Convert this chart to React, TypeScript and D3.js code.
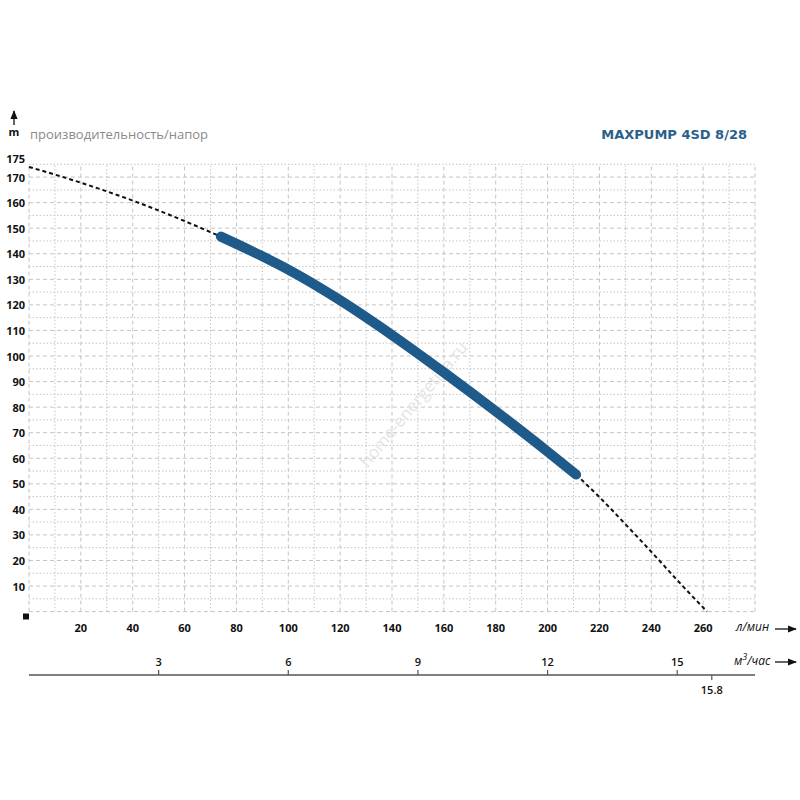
import React from 'react'
import * as d3 from 'd3'

// pump curve: flow (l/min) vs head (m)
const flowLpm = [0, 20, 40, 60, 74, 90, 100, 120, 140, 160, 180, 200, 211, 220, 230, 240, 250, 261.5]
const headM = [174, 167.8, 160.8, 152.8, 146.7, 139, 133.8, 121.8, 108.2, 93.6, 78.4, 62.6, 53.6, 44.8, 34.2, 23.4, 12.3, 0]
const workRange = [74, 211]

const flowTicks = [20, 40, 60, 80, 100, 120, 140, 160, 180, 200, 220, 240, 260]
const headTicks = [10, 20, 30, 40, 50, 60, 70, 80, 90, 100, 110, 120, 130, 140, 150, 160, 170, 175]
const m3Ticks = [3, 6, 9, 12, 15]
const m3Max = 15.8

const title = 'MAXPUMP 4SD 8/28'
const subtitle = 'производительность/напор'

const W = 800
const H = 800
const left = 29
const right = 755
const top = 164.3
const bottom = 611.6
const axis2Y = 675

const font = '"Open Sans", "DejaVu Sans", sans-serif'

export default function App() {
  const x = d3.scaleLinear().domain([0, 280]).range([left, right])
  const y = d3.scaleLinear().domain([0, 175]).range([bottom, top])
  const xM3 = d3.scaleLinear().domain([0, 280 * 0.06]).range([left, right])

  const pts: [number, number][] = flowLpm.map((f, i) => [f, headM[i]])
  const line = d3
    .line<[number, number]>()
    .x(d => x(d[0]))
    .y(d => y(d[1]))
    .curve(d3.curveMonotoneX)

  const before = pts.filter(d => d[0] <= workRange[0])
  const work = pts.filter(d => d[0] >= workRange[0] && d[0] <= workRange[1])
  const after = pts.filter(d => d[0] >= workRange[1])

  const vGrid = d3.range(0, 281, 10)
  const hGrid = d3.range(0, 176, 5)

  return (
    <svg
      width={W}
      height={H}
      style={{ position: 'absolute', left: 0, top: 0, background: '#fff' }}
      fontFamily={font}
    >
      <defs>
        <marker id="arr" viewBox="0 0 10 10" refX="9" refY="5" markerWidth="7" markerHeight="7" orient="auto">
          <path d="M0,1 L10,5 L0,9 z" fill="#111" />
        </marker>
      </defs>

      {/* grid */}
      <g>
        {vGrid.map(v => (
          <line
            key={'v' + v}
            x1={x(v)}
            x2={x(v)}
            y1={y(0)}
            y2={y(175)}
            stroke="#c4c4c4"
            strokeWidth={1}
            strokeDasharray={v % 20 === 0 ? '4,3' : '1.5,2'}
          />
        ))}
        {hGrid.map(h => (
          <line
            key={'h' + h}
            x1={x(0)}
            x2={x(280)}
            y1={y(h)}
            y2={y(h)}
            stroke="#c4c4c4"
            strokeWidth={1}
            strokeDasharray={h % 10 === 0 ? '4,3' : '1.5,2'}
          />
        ))}
      </g>

      {/* watermark */}
      <text
        x={418}
        y={408}
        transform="rotate(-50 418 408)"
        textAnchor="middle"
        fontSize={17}
        fill="#e4e4e4"
      >
        home-energetika.ru
      </text>

      {/* curves */}
      <path d={line(before) || ''} fill="none" stroke="#111" strokeWidth={2} strokeDasharray="4,3" />
      <path d={line(after) || ''} fill="none" stroke="#111" strokeWidth={2} strokeDasharray="4,3" />
      <path d={line(work) || ''} fill="none" stroke="#1e5a8a" strokeWidth={10} strokeLinecap="round" />

      {/* head axis */}
      {headTicks.map(t => (
        <text
          key={'yt' + t}
          x={25}
          y={y(t) - (t === 175 ? 6 : 0)}
          textAnchor="end"
          dominantBaseline="central"
          fontSize={11}
          fontWeight="bold"
          fill="#111"
        >
          {t}
        </text>
      ))}
      <rect x={23} y={613.5} width={6} height={6} fill="#111" />
      <line x1={14} x2={14} y1={125} y2={111} stroke="#111" strokeWidth={1.3} markerEnd="url(#arr)" />
      <text x={14} y={136} textAnchor="middle" fontSize={11} fontWeight="bold" fill="#111">
        m
      </text>
      <text x={30} y={139} fontSize={13} fill="#8a8a8a">
        {subtitle}
      </text>
      <text x={747} y={139} textAnchor="end" fontSize={13} fontWeight="bold" fill="#2b5f8c" fontFamily='"DejaVu Sans", sans-serif'>
        {title}
      </text>

      {/* flow axis l/min */}
      {flowTicks.map(t => (
        <text
          key={'xt' + t}
          x={x(t)}
          y={627}
          textAnchor="middle"
          dominantBaseline="central"
          fontSize={11}
          fontWeight="bold"
          fill="#111"
        >
          {t}
        </text>
      ))}
      <text x={736} y={631} fontSize={12} fontStyle="italic" fill="#111">
        л/мин
      </text>
      <line x1={775} x2={796} y1={629} y2={629} stroke="#111" strokeWidth={1.3} markerEnd="url(#arr)" />

      {/* flow axis m3/h */}
      <line x1={left} x2={right} y1={axis2Y} y2={axis2Y} stroke="#555" strokeWidth={1.5} />
      {m3Ticks.map(t => (
        <g key={'m3' + t}>
          <line x1={xM3(t)} x2={xM3(t)} y1={axis2Y - 5} y2={axis2Y} stroke="#555" strokeWidth={1.2} />
          <text x={xM3(t)} y={661} textAnchor="middle" dominantBaseline="central" fontSize={11} fontWeight={600} fill="#111">
            {t}
          </text>
        </g>
      ))}
      <line x1={xM3(m3Max)} x2={xM3(m3Max)} y1={axis2Y} y2={axis2Y + 5} stroke="#555" strokeWidth={1.2} />
      <text x={xM3(m3Max)} y={689} textAnchor="middle" dominantBaseline="central" fontSize={11} fontWeight={600} fill="#111">
        {m3Max}
      </text>
      <text x={734} y={665} fontSize={12} fontStyle="italic" fill="#111">
        м<tspan dy={-5} fontSize={9}>3</tspan>
        <tspan dy={5}>/час</tspan>
      </text>
      <line x1={775} x2={796} y1={662} y2={662} stroke="#111" strokeWidth={1.3} markerEnd="url(#arr)" />
    </svg>
  )
}
